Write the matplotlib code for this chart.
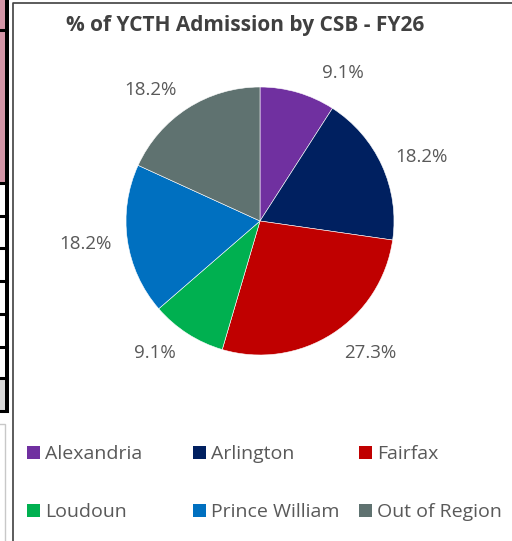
import matplotlib.pyplot as plt
from matplotlib.patches import Patch, Rectangle
from matplotlib.lines import Line2D

# data
regions = ['Alexandria', 'Arlington', 'Fairfax', 'Loudoun', 'Prince William', 'Out of Region']
admissions = [1, 2, 3, 1, 2, 2]
colors = ['#7030A0', '#002060', '#C00000', '#00B050', '#0070C0', '#5F7270']

W, H = 512, 541
plt.rcParams['font.family'] = ['Open Sans', 'DejaVu Sans']

fig = plt.figure(figsize=(W / 100, H / 100), dpi=100)
fig.patch.set_facecolor('white')


def fx(px):
    return px / W


def fy(py):
    return 1 - py / H


# spreadsheet bits visible at the left edge
fig.patches.append(Rectangle((0, fy(183)), fx(5), fy(0) - fy(183), transform=fig.transFigure,
                             facecolor='#D496A7', edgecolor='none'))
fig.patches.append(Rectangle((0, fy(412)), fx(6), fy(378) - fy(412), transform=fig.transFigure,
                             facecolor='#D9D9D9', edgecolor='none'))
fig.patches.append(Rectangle((fx(5), fy(412)), fx(3.5), fy(0) - fy(412), transform=fig.transFigure,
                             facecolor='black', edgecolor='none'))
for yy in [30, 183, 216, 248, 281, 314, 347, 378, 411]:
    fig.lines.append(Line2D([0, fx(7)], [fy(yy), fy(yy)], transform=fig.transFigure,
                            color='black', lw=2.2))
fig.patches.append(Rectangle((fx(-2), fy(545)), fx(7), fy(424) - fy(545), transform=fig.transFigure,
                             facecolor='white', edgecolor='#C8C8C8', lw=1))
# chart frame
fig.lines.append(Line2D([fx(13), fx(13), fx(520)], [fy(545), fy(3), fy(3)],
                        transform=fig.transFigure, color='#404040', lw=1.2))

# pie
cx, cy, r = 260, 221, 134
ax = fig.add_axes([fx(cx - r), fy(cy + r), 2 * r / W, 2 * r / H])
wedges, texts, autotexts = ax.pie(
    admissions, colors=colors, startangle=90, counterclock=False,
    autopct='%1.1f%%', pctdistance=1.28, radius=1,
    wedgeprops=dict(edgecolor='white', linewidth=0.4),
    textprops=dict(color='#595959', fontsize=13.5))
ax.set_xlim(-1, 1)
ax.set_ylim(-1, 1)
ax.set_aspect('equal')
ax.axis('off')

# Excel "best fit" label spots (pixel centres in the reference)
label_px = [(343, 73), (421, 157), (370, 353), (155, 353), (85, 244), (150, 90)]
for t, (px, py) in zip(autotexts, label_px):
    t.set_position(((px - cx) / r, (cy - py) / r))

fig.text(fx(245), fy(25), '% of YCTH Admission by CSB - FY26', ha='center', va='center',
         fontsize=15, fontweight='bold', color='#404040')

# legend: one per column so the columns line up as in the reference
col_x = [27, 193, 359]
for c in range(3):
    idx = [c, c + 3]
    handles = [Patch(facecolor=colors[i], edgecolor='none') for i in idx]
    fig.legend(handles, [regions[i] for i in idx], loc='upper left',
               bbox_to_anchor=(fx(col_x[c]), fy(445)), frameon=False,
               fontsize=14, labelcolor='#595959', handlelength=0.65, handleheight=0.65,
               handletextpad=0.3, labelspacing=2.05, borderpad=0, borderaxespad=0)

fig.savefig('out.png', dpi=100)
